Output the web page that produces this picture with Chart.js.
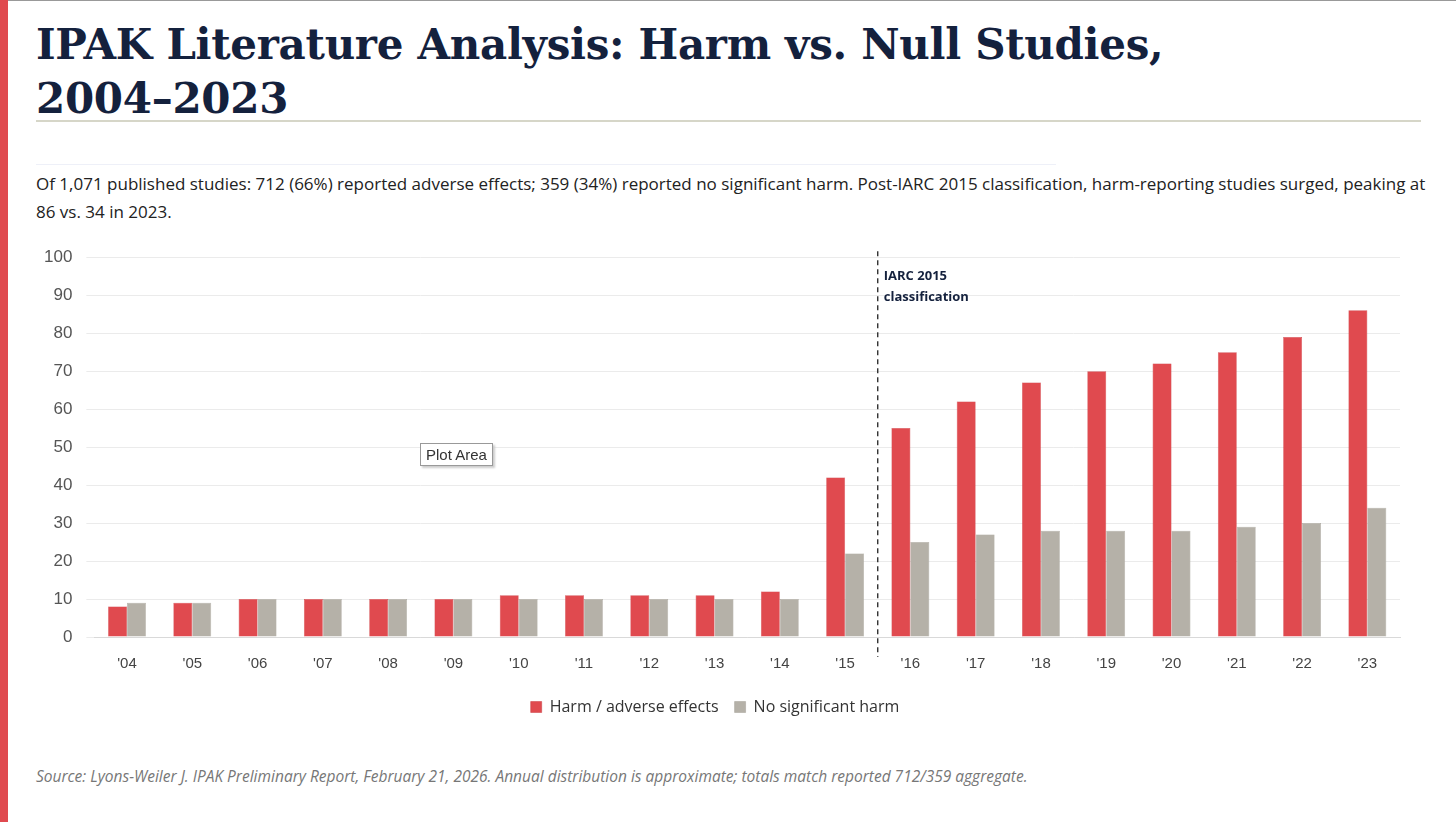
<!DOCTYPE html>
<html>
<head>
<meta charset="utf-8">
<script src="https://cdn.jsdelivr.net/npm/chart.js@4"></script>
<style>
  body { margin: 0; width: 1456px; height: 822px; background: #fff; position: relative; overflow: hidden; font-family: "Open Sans", sans-serif; }
  .edge { position: absolute; left: 0; top: 0; width: 8px; height: 822px; background: #E04A4F; }
  .topline { position: absolute; left: 0; top: 0; width: 1456px; height: 1px; background: #999; }
  h1 { position: absolute; left: 36px; top: 18px; margin: 0; font-family: "DejaVu Serif", Georgia, serif; font-weight: bold; font-size: 42px; line-height: 54px; color: #14213D; letter-spacing: -0.3px; }
  .rule { position: absolute; left: 36px; top: 120px; width: 1385px; height: 2px; background: #D6D6C8; }
  .rule2 { position: absolute; left: 36px; top: 164px; width: 1020px; height: 1px; background: #EEF0F8; }
  .sub { position: absolute; left: 36px; top: 170px; width: 1390px; font-size: 17px; line-height: 28px; color: #222; }
  .src { position: absolute; left: 36px; top: 765px; font-size: 15.5px; font-style: italic; color: #777; }
  .wrap { position: absolute; left: 30px; top: 233px; width: 1385px; height: 498px; }
  .tip { position: absolute; left: 420px; top: 443px; padding: 2px 5px; border: 1px solid #999; background: #fff; font-size: 15px; color: #333; box-shadow: 2px 2px 2px #ccc; font-family: "Liberation Sans", sans-serif; }
</style>
</head>
<body>
<div class="topline"></div>
<div class="edge"></div>
<h1>IPAK Literature Analysis: Harm vs. Null Studies,<br>2004–2023</h1>
<div class="rule"></div>
<div class="rule2"></div>
<div class="sub">Of 1,071 published studies: 712 (66%) reported adverse effects; 359 (34%) reported no significant harm. Post-IARC 2015 classification, harm-reporting studies surged, peaking at 86 vs. 34 in 2023.</div>
<div class="wrap"><canvas id="chart"></canvas></div>
<div class="tip">Plot Area</div>
<div class="src">Source: Lyons-Weiler J. IPAK Preliminary Report, February 21, 2026. Annual distribution is approximate; totals match reported 712/359 aggregate.</div>
<script>
// Chart data
const years = ["'04","'05","'06","'07","'08","'09","'10","'11","'12","'13","'14","'15","'16","'17","'18","'19","'20","'21","'22","'23"];
const harmStudies = [8, 9, 10, 10, 10, 10, 11, 11, 11, 11, 12, 42, 55, 62, 67, 70, 72, 75, 79, 86];
const nullStudies = [9, 9, 10, 10, 10, 10, 10, 10, 10, 10, 10, 22, 25, 27, 28, 28, 28, 29, 30, 34];
const yTicks = [0, 10, 20, 30, 40, 50, 60, 70, 80, 90, 100];

// Dashed marker between '15 and '16
const iarcLine = {
    id: 'iarcLine',
    afterDatasetsDraw: function (chart) {
        const x = chart.scales.x;
        const y = chart.scales.y;
        const px = (x.getPixelForValue(11) + x.getPixelForValue(12)) / 2;
        const ctx = chart.ctx;
        ctx.save();
        ctx.strokeStyle = '#222';
        ctx.lineWidth = 1.3;
        ctx.setLineDash([5, 4]);
        ctx.beginPath();
        ctx.moveTo(px, y.top - 6);
        ctx.lineTo(px, y.bottom + 20);
        ctx.stroke();
        ctx.setLineDash([]);
        ctx.fillStyle = '#14213D';
        ctx.font = 'bold 13px "Open Sans", sans-serif';
        ctx.textBaseline = 'middle';
        ctx.fillText('IARC 2015', px + 6, y.getPixelForValue(95));
        ctx.fillText('classification', px + 6, y.getPixelForValue(89.5));
        ctx.restore();
    }
};

new Chart(document.getElementById('chart'), {
    type: 'bar',
    data: {
        labels: years,
        datasets: [{
            label: 'Harm / adverse effects',
            data: harmStudies,
            backgroundColor: '#E04A4F',
            borderColor: '#C93A40',
            borderWidth: 0.5
        }, {
            label: 'No significant harm',
            data: nullStudies,
            backgroundColor: '#B5B1A8',
            borderColor: '#A29E95',
            borderWidth: 0.5
        }]
    },
    options: {
        responsive: true,
        maintainAspectRatio: false,
        animation: false,
        categoryPercentage: 0.58,
        barPercentage: 1.0,
        layout: { padding: { right: 15, bottom: 6 } },
        plugins: {
            tooltip: { enabled: false },
            legend: {
                position: 'bottom',
                labels: {
                    boxWidth: 11, boxHeight: 11, padding: 16,
                    color: '#333',
                    font: { size: 16, family: '"Open Sans", sans-serif' }
                }
            }
        },
        scales: {
            x: {
                grid: { display: false },
                border: { color: '#D9D9D9' },
                ticks: { color: '#444', font: { size: 15, family: '"Liberation Sans", sans-serif' }, padding: 10 }
            },
            y: {
                min: 0, max: 100,
                afterBuildTicks: function (axis) { axis.ticks = yTicks.map(v => ({ value: v })); },
                grid: { color: '#EBEBEB' },
                border: { display: false },
                ticks: { color: '#555', font: { size: 17, family: '"Liberation Sans", sans-serif' }, padding: 14 }
            }
        }
    },
    plugins: [iarcLine]
});
</script>
</body>
</html>
